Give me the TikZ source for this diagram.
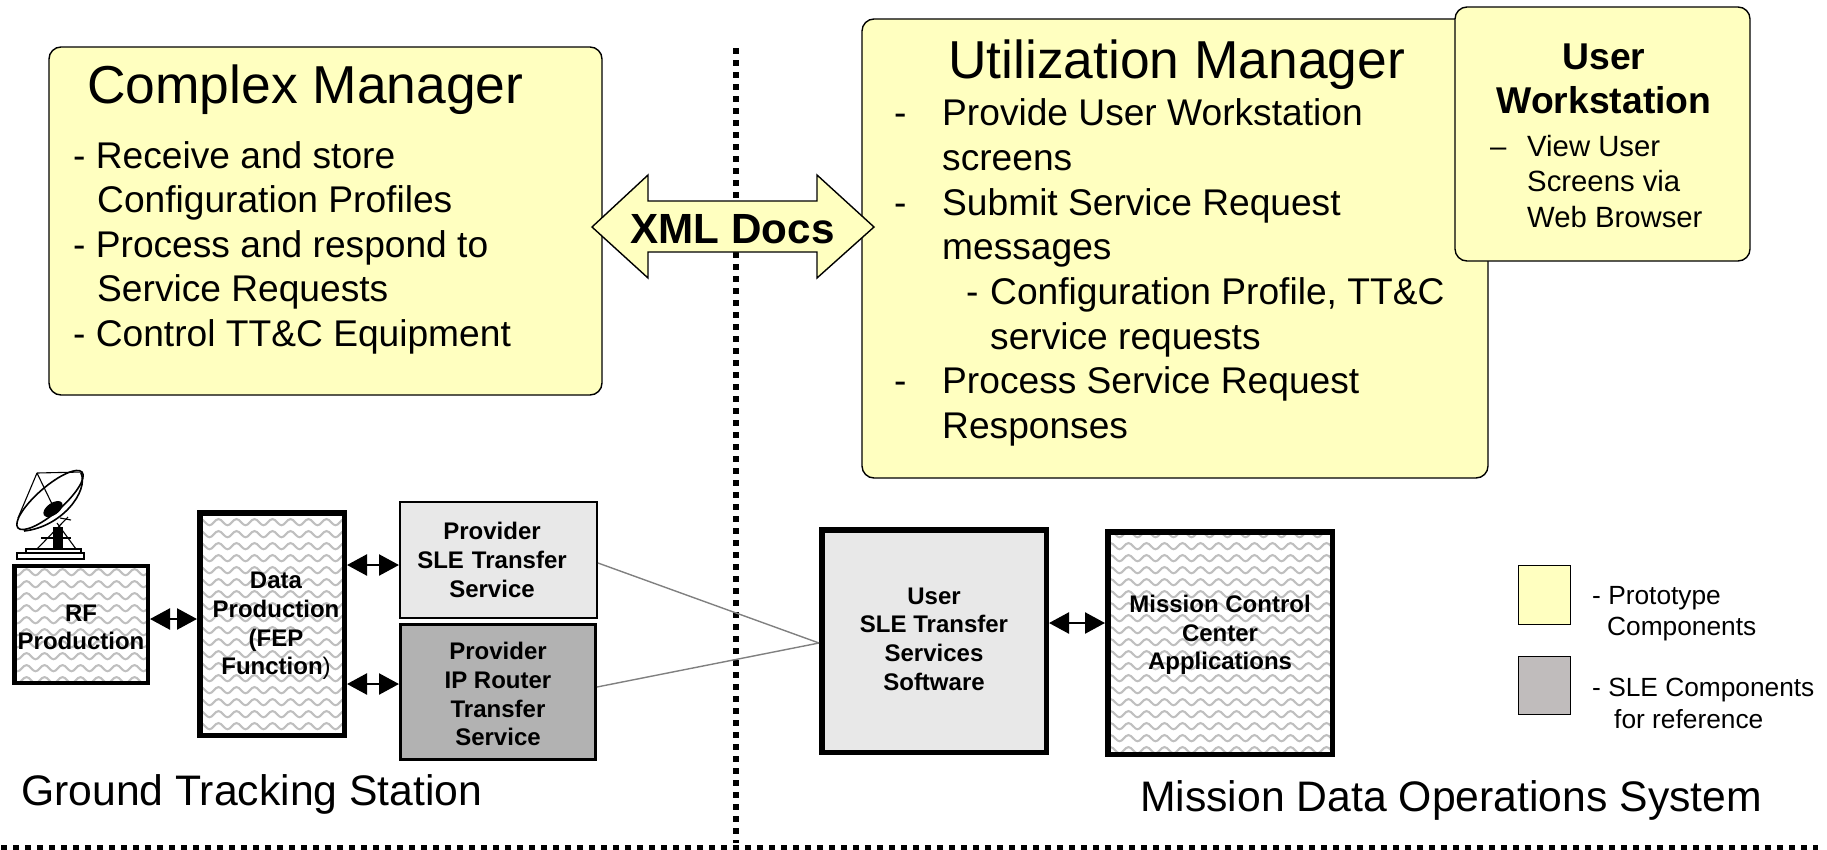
\documentclass[tikz,border=0pt]{standalone}
\usepackage{fontspec}
\setmainfont{Liberation Sans}
\usetikzlibrary{arrows.meta,patterns}
\definecolor{panel}{HTML}{FFFFC0}
\pgfdeclarepatternformonly{softwave}{\pgfqpoint{0pt}{0pt}}{\pgfqpoint{17.5pt}{11.7pt}}{\pgfqpoint{17.5pt}{11.7pt}}{
  \pgfsetlinewidth{2.1pt}
  \pgfpathmoveto{\pgfqpoint{-1pt}{2.6pt}}
  \pgfpathcurveto{\pgfqpoint{3pt}{2.6pt}}{\pgfqpoint{5pt}{9.1pt}}{\pgfqpoint{8.75pt}{9.1pt}}
  \pgfpathcurveto{\pgfqpoint{12.5pt}{9.1pt}}{\pgfqpoint{14.5pt}{2.6pt}}{\pgfqpoint{18.5pt}{2.6pt}}
  \pgfusepath{stroke}}
\tikzset{
  x=1pt,y=-1pt,
  panelbox/.style={draw=black,line width=1.4pt,fill=panel,rounded corners=12pt,inner sep=0pt},
  blockbox/.style={draw=black,align=center,inner sep=0pt,font=\fontsize{24}{28.6}\selectfont\bfseries},
  wavy/.style={pattern=softwave,pattern color=black!25},
  plainlight/.style={fill=black!9},
  body/.style={anchor=base west,inner sep=0pt,font=\fontsize{37.15}{44}\selectfont},
  small/.style={anchor=base west,inner sep=0pt,font=\fontsize{29.3}{34}\selectfont},
  legendtxt/.style={anchor=base west,inner sep=0pt,font=\fontsize{26.3}{31}\selectfont},
  title/.style={anchor=base west,inner sep=0pt,font=\fontsize{53.4}{60}\selectfont},
  caption/.style={anchor=base west,inner sep=0pt,font=\fontsize{42.7}{50}\selectfont},
  twoway/.style={line width=2.4pt,{Triangle[length=20pt,width=21pt]}-{Triangle[length=20pt,width=21pt]}},
  dots/.style={line width=6pt,dash pattern=on 6pt off 6pt},
  thin link/.style={draw=black!50,line width=1.4pt},
  dish/.style={line width=1.1pt},
}
\begin{document}
\begin{tikzpicture}
\useasboundingbox (0,0) rectangle (1827,849);
% separators
\coordinate (vtop) at (736,48);
\coordinate (vbot) at (736,843);
\coordinate (hl) at (1,847.5);
\coordinate (hr) at (1818,847.5);
\draw[dots] (vtop) -- (vbot);
\draw[dots] (hl) -- (hr);
% panels
\node[panelbox,minimum width=553pt,minimum height=348pt] (complex) at (325.5,221) {};
\node[panelbox,minimum width=626pt,minimum height=459pt] (util) at (1175,248.5) {};
\node[panelbox,minimum width=295pt,minimum height=254pt] (workst) at (1602.5,134) {};
% XML arrow
\draw[fill=panel,line width=1.4pt,line join=miter] (592,227) -- (648,175) -- (648,201) -- (817,201) -- (817,175) -- (874,227) -- (817,278) -- (817,252) -- (648,252) -- (648,278) -- cycle;
\node[inner sep=0pt,anchor=base,font=\fontsize{42.2}{48}\selectfont\bfseries] (xml) at (732.5,243) {XML Docs};
% panel texts
\node[title] (cmt) at (87,103) {Complex Manager};
\node[body] (c1) at (73,168) {- Receive and store};
\node[body] (c2) at (97,212) {Configuration Profiles};
\node[body] (c3) at (73,257) {- Process and respond to};
\node[body] (c4) at (97,301) {Service Requests};
\node[body] (c5) at (73,346) {- Control TT\&C Equipment};
\node[title] (umt) at (948,78) {Utilization Manager};
\node[body] (u1d) at (894,125.5) {-};
\node[body] (u1) at (942,125.5) {Provide User Workstation};
\node[body] (u2) at (942,170) {screens};
\node[body] (u3d) at (894,215) {-};
\node[body] (u3) at (942,215) {Submit Service Request};
\node[body] (u4) at (942,259.5) {messages};
\node[body] (u5d) at (966,304) {-};
\node[body] (u5) at (990,304) {Configuration Profile, TT\&C};
\node[body] (u6) at (990,349.5) {service requests};
\node[body] (u7d) at (894,393.5) {-};
\node[body] (u7) at (942,393.5) {Process Service Request};
\node[body] (u8) at (942,438.5) {Responses};
\node[anchor=base,inner sep=0pt,font=\fontsize{37.3}{44}\selectfont\bfseries] (wt1) at (1604,69) {User};
\node[anchor=base,inner sep=0pt,font=\fontsize{37.3}{44}\selectfont\bfseries] (wt2) at (1604,113) {Workstation};
\node[small] (wd) at (1490,156) {–};
\node[small] (w1) at (1527,156) {View User};
\node[small] (w2) at (1527,191) {Screens via};
\node[small] (w3) at (1527,227) {Web Browser};
% blocks
\node[blockbox,wavy,line width=4.5pt,minimum width=133.5pt,minimum height=117pt] (rf) at (81,624.5) {\rule{0pt}{22pt}RF\\Production};
\node[blockbox,wavy,line width=5.5pt,minimum width=144.5pt,minimum height=222.5pt] (data) at (272,624) {\rule{0pt}{20.5pt}\hspace*{8pt}Data\\\hspace*{8pt}Production\\\hspace*{8pt}(FEP\\\hspace*{8pt}Function{\normalfont)}};
\node[blockbox,plainlight,line width=2pt,minimum width=197pt,minimum height=116pt,text width=197pt] (sle) at (498.5,560) {Provider\rule{13pt}{0pt}\\SLE Transfer\rule{13pt}{0pt}\\Service\rule{13pt}{0pt}};
\node[blockbox,fill=black!30,line width=3pt,minimum width=195pt,minimum height=135pt] (ip) at (498,692) {\rule{0pt}{22pt}Provider\\IP Router\\Transfer\\Service};
\node[blockbox,plainlight,line width=5.5pt,minimum width=224.5pt,minimum height=222.5pt] (user) at (934,641) {User\\SLE Transfer\\Services\\Software\rule[-4pt]{0pt}{0pt}};
\node[blockbox,wavy,line width=5.5pt,minimum width=224.5pt,minimum height=222.5pt] (mcc) at (1220,643) {Mission Control\\Center\\Applications\rule[-21pt]{0pt}{0pt}};
% connectors
\draw[twoway] (rf.east |- 0,619) -- (data.west |- 0,619);
\draw[twoway] (data.east |- 0,565) -- (sle.west |- 0,565);
\draw[twoway] (data.east |- 0,684) -- (ip.west |- 0,684);
\draw[twoway] (user.east |- 0,623) -- (mcc.west |- 0,623);
\coordinate (tip) at (user.west |- 0,643);
\draw[thin link] (sle.east |- 0,563) -- (tip);
\draw[thin link] (ip.east |- 0,687) -- (tip);
% captions
\node[caption] (gts) at (21,805) {Ground Tracking Station};
\node[caption] (mdos) at (1140,811) {Mission Data Operations System};
% legend
\node[draw=black,line width=1.2pt,fill=panel,minimum width=52pt,minimum height=59pt,inner sep=0pt] (leg1) at (1544.5,595) {};
\node[draw=black,line width=1.2pt,fill={rgb,255:red,192;green,188;blue,188},minimum width=52pt,minimum height=58pt,inner sep=0pt] (leg2) at (1544.5,685.5) {};
\node[legendtxt] (l1) at (1592,604) {- Prototype};
\node[legendtxt] (l2) at (1607,635) {Components};
\node[legendtxt] (l3) at (1592,696) {- SLE Components};
\node[legendtxt] (l4) at (1614,728) {for reference};
% antenna
\begin{scope}[dish]
  \draw (17,553) rectangle (84,559);
  \draw (26,549) rectangle (81,553);
  \fill (53,527) rectangle (63,549);
  \draw (37,549) -- (68,517);
  \draw (76,549) -- (57,523);
  \draw (41,538) -- (71,538);
  \draw (60,518) -- (71,520);
  \draw (37,473) -- (82,472);
  \draw (37,473) -- (18,518);
  \draw (37,473) -- (53,506);
  \draw[line width=1.6pt,rotate around={41:(50,500)}] (50,500) ellipse [x radius=42.5pt,y radius=13pt];
  \draw[line width=1.6pt] (81,473) .. controls (89,491) and (62,527) .. (24,531);
  \fill[rotate around={35:(53,509)}] (53,509) ellipse [x radius=11pt,y radius=6pt];
\end{scope}
\end{tikzpicture}
\end{document}
